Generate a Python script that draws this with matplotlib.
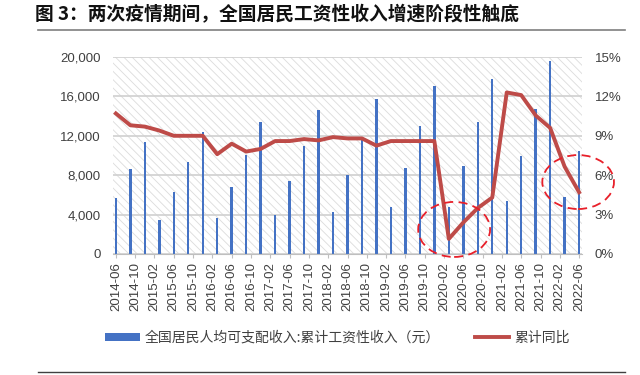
import matplotlib
matplotlib.use("Agg")
import matplotlib.pyplot as plt
from matplotlib.patches import Rectangle, Ellipse, Patch
from matplotlib.lines import Line2D
from matplotlib.ticker import FuncFormatter

# --- 1. DATA (quarterly) ---
START_YEAR, START_MONTH = 2014, 6
# cumulative per-capita wage income (yuan), 2014-06 .. 2022-06, every quarter
wage_income = [5700, 8600, 11400,
               3500, 6300, 9300, 12400,
               3700, 6800, 10100, 13400,
               4000, 7400, 11000, 14600,
               4300, 8000, 11900, 15700,
               4750, 8700, 12950, 17100,
               4750, 8900, 13400, 17800,
               5400, 9950, 14750, 19600,
               5800, 10500]
# cumulative YoY growth (%)
yoy_growth = [10.7, 9.8, 9.7,
              9.4, 9.0, 9.0, 9.0,
              7.6, 8.4, 7.8, 8.0,
              8.6, 8.6, 8.75, 8.65,
              8.9, 8.8, 8.8, 8.25,
              8.6, 8.6, 8.6, 8.6,
              1.15, 2.4, 3.5, 4.3,
              12.3, 12.1, 10.55, 9.6,
              6.65, 4.7]

TITLE = "图 3：两次疫情期间，全国居民工资性收入增速阶段性触底"
BAR_LABEL = "全国居民人均可支配收入:累计工资性收入（元）"
LINE_LABEL = "累计同比"

# month index (0 = 2014-06) for each quarter and for the axis labels
months = [3 * i for i in range(len(wage_income))]
tick_months = list(range(0, months[-1] + 1, 4))


def month_label(m):
    total = START_MONTH - 1 + m
    return f"{START_YEAR + total // 12}-{total % 12 + 1:02d}"


tick_labels = [month_label(m) for m in tick_months]

# --- 2. STYLE ---
CJK = ["Noto Sans CJK SC", "DejaVu Sans"]
LATIN = ["Liberation Sans", "Noto Sans CJK SC"]
BLUE = "#4472C4"
RED = "#BE4B48"
TXT = "#404040"

plt.rcParams["font.family"] = LATIN
plt.rcParams["hatch.linewidth"] = 0.6

fig = plt.figure(figsize=(6.4, 3.75), dpi=100)
ax = fig.add_axes([113 / 640, 1 - 254 / 375, 469 / 640, 197 / 375])
ax2 = ax.twinx()

# hatched plot area background
ax.add_patch(Rectangle((0, 0), 1, 1, transform=ax.transAxes, facecolor="white",
                       edgecolor="#dcdcdc", linewidth=0, hatch="\\\\\\\\", zorder=0.1))

# --- 3. BARS + LINE ---
ax.bar(months, wage_income, width=0.5, color=BLUE, zorder=2)
ax2.plot(months, yoy_growth, color=RED, linewidth=2.8, solid_joinstyle="round", zorder=3)

ax.set_xlim(-0.6, 96.6)
ax.set_ylim(0, 20000)
ax2.set_ylim(0, 15)
ax.set_yticks(range(0, 20001, 4000))
ax2.set_yticks(range(0, 16, 3))
ax.yaxis.set_major_formatter(FuncFormatter(lambda v, p: f"{v:,.0f}"))
ax2.yaxis.set_major_formatter(FuncFormatter(lambda v, p: f"{v:.0f}%"))
ax.set_xticks(tick_months)
ax.set_xticklabels(tick_labels, rotation=90)

ax.grid(axis="y", color="#d0d0d0", linewidth=1.2, zorder=0.5)
ax.set_axisbelow(True)

for a in (ax, ax2):
    for s in ("top", "left", "right"):
        a.spines[s].set_visible(False)
ax2.spines["bottom"].set_visible(False)
ax.spines["bottom"].set_color("#bfbfbf")
ax.tick_params(axis="y", length=0, pad=9, labelsize=9.5, labelcolor=TXT)
ax2.tick_params(axis="y", length=0, pad=9, labelsize=9.5, labelcolor=TXT)
ax.tick_params(axis="x", length=3, color="#bfbfbf", pad=3, labelsize=9.5, labelcolor=TXT)

# dashed circles around the two troughs
for cx, cy, w, h in [(70.1, 1.87, 14.9, 4.19), (95.8, 5.48, 14.85, 4.11)]:
    ax2.add_patch(Ellipse((cx, cy), w, h, fill=False, edgecolor="#E8202A",
                          linewidth=1.3, linestyle=(0, (5, 3)), clip_on=False, zorder=4))

# --- 4. TITLE, LEGEND, RULES ---
fig.text(35 / 640, 1 - 15 / 375, TITLE, fontsize=13.5, fontweight="bold",
         family=CJK, color="#111111", va="center", ha="left")
fig.add_artist(Line2D([38 / 640, 625 / 640], [1 - 29.5 / 375] * 2,
                      color="#7f7f7f", linewidth=1.2))
fig.add_artist(Line2D([38 / 640, 625 / 640], [1 - 372 / 375] * 2,
                      color="#404040", linewidth=1.0))

handles = [Patch(facecolor=BLUE, edgecolor="none"),
           Line2D([0], [0], color=RED, linewidth=2.8)]
fig.legend(handles, [BAR_LABEL, LINE_LABEL], loc="center left",
           bbox_to_anchor=(105 / 640, 1 - 338 / 375), ncol=2, frameon=False,
           borderpad=0, borderaxespad=0, handlelength=2.5, handleheight=0.55,
           handletextpad=0.35, columnspacing=2.5,
           prop={"family": CJK, "size": 10}, labelcolor=TXT)

fig.savefig("out.png", dpi=100)
